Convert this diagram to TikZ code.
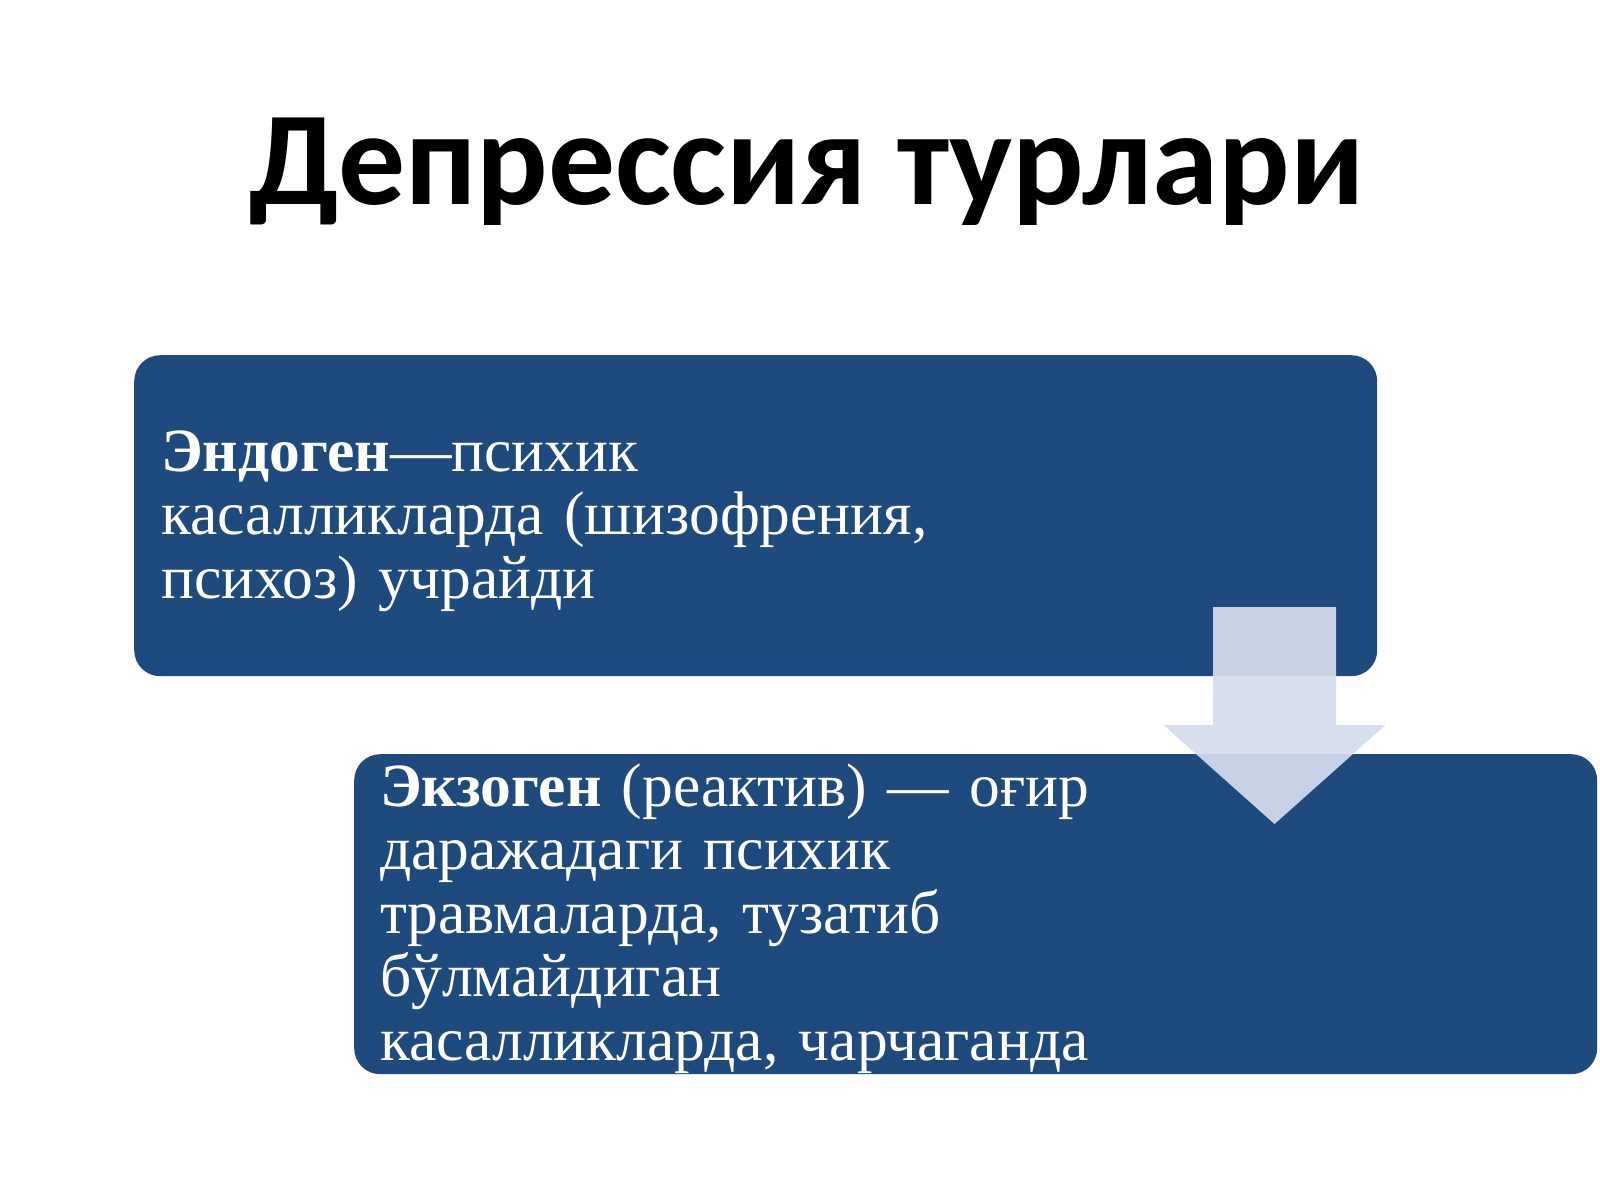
\documentclass[tikz,border=0pt]{standalone}
\usepackage{fontspec}
\setmainfont{Liberation Serif}
\newfontfamily\titlefont{Carlito}
\definecolor{boxblue}{HTML}{1F4A7E}
\definecolor{arrowfill}{RGB}{212,221,238}
\begin{document}
\begin{tikzpicture}[x=1pt,y=-1pt,
  bluebox/.style={fill=boxblue, draw=none, rounded corners=26pt, anchor=north west, inner sep=0pt},
  boxtext/.style={anchor=base west, inner sep=0pt, text=white, align=left, text width=1100pt,
     font=\fontsize{61.5}{63.5}\selectfont},
  titletext/.style={anchor=base, inner sep=0pt, font=\titlefont\bfseries\fontsize{133.5}{135}\selectfont}]
\useasboundingbox (0,0) rectangle (1600,1200);
\fill[white] (0,0) rectangle (1600,1200);
\node[titletext] (title) at (807,204) {Депрессия турлари};
\node[bluebox, minimum width=1243pt, minimum height=321pt] (endo) at (134,355) {};
\node[bluebox, minimum width=1243pt, minimum height=320pt] (exo) at (354,754) {};
\fill[arrowfill, opacity=0.93] (1213,607) -- (1336,607) -- (1336,725) -- (1385.5,725)
   -- (1274.5,824) -- (1163.5,725) -- (1213,725) -- cycle;
\node[boxtext] (endotext) at (161,471) {\textbf{Эндоген}—психик\\касалликларда (шизофрения,\\психоз) учрайди};
\node[boxtext] (exotext) at (380,806) {\textbf{Экзоген} (реактив) — оғир\\даражадаги психик\\травмаларда, тузатиб\\бўлмайдиган\\касалликларда, чарчаганда};
\end{tikzpicture}
\end{document}
